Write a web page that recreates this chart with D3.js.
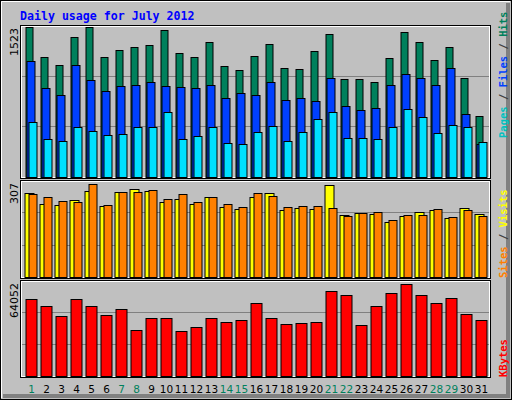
<!DOCTYPE html>
<html><head><meta charset="utf-8">
<script src="https://cdn.jsdelivr.net/npm/d3@7"></script>
<style>body{margin:0;background:#fff}</style>
</head><body>
<div id="app"></div>
<script>
const days = d3.range(1, 32);
const weekend = [1, 7, 8, 14, 15, 21, 22, 28, 29];
const hits = [1523,1214,1142,1420,1523,1214,1286,1317,1338,1492,1255,1214,1369,1132,1091,1225,1348,1111,1101,1276,1451,998,998,967,1204,1471,1369,1183,1317,1008,617];
const files = [1173,906,834,1142,988,875,926,936,967,926,916,906,936,803,854,834,967,782,803,772,1008,720,679,700,936,1050,1008,936,1111,638,340];
const pages = [556,381,370,504,463,422,432,504,504,659,381,412,504,350,340,453,515,370,453,587,659,391,401,381,504,689,607,442,525,504,360];
const visits = [276,240,237,253,283,233,280,289,283,247,256,240,263,230,223,263,276,220,227,223,303,204,210,207,181,200,214,220,194,227,207];
const sites = [273,263,250,247,306,237,280,280,286,256,273,247,263,240,230,276,266,230,233,233,227,200,210,214,187,204,204,223,197,220,200];
const kbytes = [53575,48685,41700,53575,48685,42400,46590,31920,40300,40300,31220,34020,40300,37510,38905,50780,40300,36110,36810,37510,59160,56370,35410,48685,57765,64052,56370,50780,54270,43100,38905];

const W = 512, H = 400;
const svg = d3.select('#app').append('svg').attr('width', W).attr('height', H);
svg.append('rect').attr('width', W).attr('height', H).attr('fill', '#c0c0c0');
// outer bevel
svg.append('rect').attr('x', 0.5).attr('y', 0.5).attr('width', W - 1).attr('height', H - 1).attr('fill', 'none').attr('stroke', '#000');
svg.append('path').attr('d', `M1.5,${H-2}V1.5H${W-2}`).attr('stroke', '#fff').attr('fill', 'none');
svg.append('path').attr('d', `M${W-4},3V${H-4}H3`).attr('stroke', '#808080').attr('stroke-width', 4).attr('fill', 'none');

svg.append('text').attr('x', 20).attr('y', 20).text('Daily usage for July 2012')
  .attr('font-family', 'DejaVu Sans Mono').attr('font-weight', 'bold').attr('font-size', 11.6).attr('fill', '#0000ff');

const x = d3.scaleBand().domain(days).range([23.5, 488.5]);

const panels = [
  { top: 25, bottom: 177, max: 1523, vmax: 27, label: '1523',
    series: [{ v: hits, c: '#00805c', dx: 2.5, w: 7 }, { v: files, c: '#0040ff', dx: 3.5, w: 8 }, { v: pages, c: '#00e0ff', dx: 5.5, w: 8 }],
    right: [['Pages', '#00c0c0'], [' / ', '#404040'], ['Files', '#0040ff'], [' / ', '#404040'], ['Hits', '#00805c']], rightY: 138 },
  { top: 180, bottom: 277, max: 307, vmax: 184, label: '307',
    series: [{ v: visits, c: '#ffff00', dx: 1.5, w: 9 }, { v: sites, c: '#ff8000', dx: 5.5, w: 8 }],
    right: [['Sites', '#ff8000'], [' / ', '#404040'], ['Visits', '#ffff00']], rightY: 278 },
  { top: 280, bottom: 376, max: 64052, vmax: 284, label: '64052',
    series: [{ v: kbytes, c: '#ff0000', dx: 2.5, w: 11 }],
    right: [['KBytes', '#ff0000']], rightY: 377 }
];

panels.forEach(p => {
  const y = d3.scaleLinear().domain([0, p.max]).range([p.bottom, p.vmax]);
  const third = (p.bottom - p.top) / 3;
  // frame
  svg.append('rect').attr('x', 20.5).attr('y', p.top + 0.5).attr('width', 470).attr('height', p.bottom - p.top + 1)
    .attr('fill', 'none').attr('stroke', '#000');
  svg.append('rect').attr('x', 21.5).attr('y', p.top + 1.5).attr('width', 468).attr('height', p.bottom - p.top - 1)
    .attr('fill', 'none').attr('stroke', '#fff');
  [1, 2].forEach(k => {
    svg.append('line').attr('x1', 22).attr('x2', 489)
      .attr('y1', Math.round(p.bottom - k * third) + 0.5).attr('y2', Math.round(p.bottom - k * third) + 0.5)
      .attr('stroke', '#808080');
  });
  p.series.forEach(s => {
    svg.append('g').selectAll('rect').data(s.v).join('rect')
      .attr('x', (d, i) => x(days[i]) + s.dx)
      .attr('y', d => Math.round(y(d)) + 0.5)
      .attr('width', s.w)
      .attr('height', d => p.bottom - Math.round(y(d)))
      .attr('fill', s.c).attr('stroke', '#000');
  });
  svg.append('text').attr('transform', `translate(18,${p.top + 3}) rotate(-90)`)
    .attr('text-anchor', 'end').attr('font-family', 'DejaVu Sans').attr('font-size', 11).text(p.label);
  const t = svg.append('text').attr('transform', `translate(507,${p.rightY}) rotate(-90)`)
    .attr('font-family', 'DejaVu Sans Mono').attr('font-weight', 'bold').attr('font-size', 10.5);
  p.right.forEach(r => t.append('tspan').attr('fill', r[1]).text(r[0]));
});

svg.append('g').selectAll('text').data(days).join('text')
  .attr('x', d => x(d) + 8).attr('y', 393).attr('text-anchor', 'middle')
  .attr('font-family', 'DejaVu Sans').attr('font-size', 10.5)
  .attr('fill', d => weekend.includes(d) ? '#00805c' : '#000').text(d => d);
</script>
</body></html>
